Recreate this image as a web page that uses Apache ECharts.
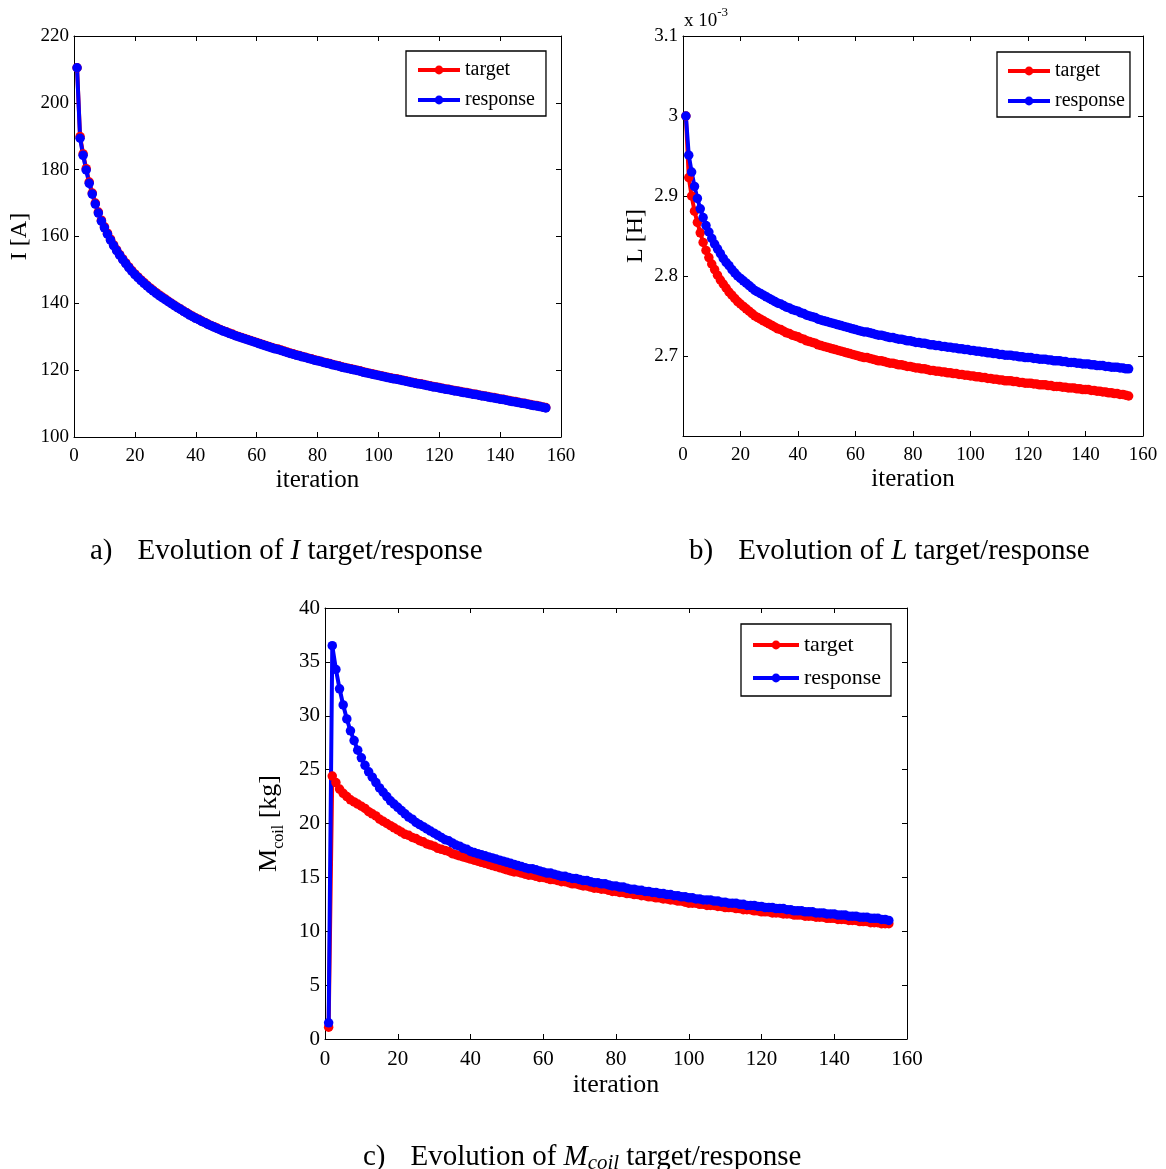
<!DOCTYPE html>
<html>
<head>
<meta charset="utf-8">
<script src="https://cdn.jsdelivr.net/npm/echarts@6/dist/echarts.min.js"></script>
<style>
html,body{margin:0;padding:0;background:#fff;}
#main{width:1166px;height:1169px;}
</style>
</head>
<body>
<div id="main"></div>
<script>
// ---------- DATA ----------
// x: iteration 1..155
const xTicks = [0, 20, 40, 60, 80, 100, 120, 140, 160];
const seriesNames = ['target', 'response'];

// a) current I [A]
const I_response = [
210.5,189.4,184.3,179.9,175.9,172.7,169.7,167.0,164.6,162.6,
160.7,158.9,157.3,155.8,154.4,153.1,151.9,150.7,149.6,148.6,
147.7,146.8,146.0,145.2,144.4,143.7,143.0,142.3,141.7,141.1,
140.5,139.9,139.3,138.7,138.2,137.6,137.1,136.5,136.0,135.5,
135.1,134.6,134.2,133.7,133.3,132.9,132.5,132.1,131.7,131.4,
131.0,130.7,130.3,130.0,129.7,129.4,129.1,128.8,128.5,128.2,
127.9,127.6,127.3,127.0,126.7,126.4,126.2,125.9,125.6,125.3,
125.0,124.8,124.5,124.3,124.0,123.8,123.5,123.3,123.0,122.8,
122.6,122.3,122.1,121.9,121.6,121.4,121.2,120.9,120.7,120.5,
120.3,120.1,119.9,119.7,119.4,119.2,119.0,118.8,118.6,118.4,
118.2,118.0,117.8,117.6,117.4,117.3,117.1,116.9,116.7,116.5,
116.3,116.1,115.9,115.8,115.6,115.4,115.2,115.0,114.9,114.7,
114.5,114.3,114.2,114.0,113.8,113.7,113.5,113.3,113.2,113.0,
112.8,112.7,112.5,112.3,112.2,112.0,111.8,111.7,111.5,111.3,
111.2,111.0,110.8,110.6,110.5,110.3,110.1,110.0,109.8,109.6,
109.4,109.3,109.1,108.9,108.7];
const I_target = [
210.5,189.9,184.7,180.3,176.3,173.0,170.0,167.3,164.9,162.9,
161.0,159.2,157.5,156.0,154.6,153.3,152.1,150.9,149.8,148.8,
147.9,147.0,146.2,145.4,144.6,143.9,143.2,142.5,141.9,141.3,
140.6,140.0,139.4,138.8,138.3,137.7,137.2,136.6,136.1,135.6,
135.2,134.7,134.3,133.8,133.4,133.0,132.6,132.2,131.8,131.5,
131.1,130.8,130.4,130.1,129.8,129.5,129.2,128.9,128.6,128.3,
128.0,127.7,127.4,127.1,126.8,126.5,126.3,126.0,125.7,125.4,
125.1,124.9,124.6,124.4,124.1,123.9,123.6,123.4,123.1,122.9,
122.7,122.4,122.2,122.0,121.7,121.5,121.3,121.0,120.8,120.6,
120.4,120.2,120.0,119.8,119.5,119.3,119.1,118.9,118.7,118.5,
118.3,118.1,117.9,117.7,117.5,117.4,117.2,117.0,116.8,116.6,
116.4,116.2,116.0,115.9,115.7,115.5,115.3,115.1,115.0,114.8,
114.6,114.4,114.3,114.1,113.9,113.8,113.6,113.4,113.3,113.1,
112.9,112.8,112.6,112.4,112.3,112.1,111.9,111.8,111.6,111.4,
111.3,111.1,110.9,110.7,110.6,110.4,110.2,110.1,109.9,109.7,
109.5,109.4,109.2,109.0,108.8];

// b) inductance L [H] x 10^-3
const L_response = [
3.000,2.951,2.930,2.912,2.897,2.884,2.873,2.863,2.855,2.847,
2.840,2.834,2.828,2.822,2.817,2.813,2.808,2.804,2.800,2.797,
2.794,2.791,2.788,2.785,2.782,2.780,2.778,2.776,2.774,2.772,
2.770,2.768,2.766,2.765,2.763,2.761,2.760,2.758,2.757,2.756,
2.754,2.753,2.751,2.750,2.749,2.748,2.746,2.745,2.744,2.743,
2.742,2.741,2.740,2.739,2.738,2.737,2.736,2.735,2.734,2.733,
2.732,2.731,2.730,2.730,2.729,2.728,2.727,2.726,2.726,2.725,
2.724,2.723,2.723,2.722,2.721,2.721,2.720,2.719,2.719,2.718,
2.717,2.717,2.716,2.716,2.715,2.714,2.714,2.713,2.713,2.712,
2.712,2.711,2.711,2.710,2.710,2.709,2.709,2.708,2.708,2.707,
2.707,2.706,2.706,2.705,2.705,2.704,2.704,2.703,2.703,2.702,
2.702,2.701,2.701,2.701,2.700,2.700,2.699,2.699,2.698,2.698,
2.698,2.697,2.697,2.696,2.696,2.696,2.695,2.695,2.694,2.694,
2.694,2.693,2.693,2.692,2.692,2.692,2.691,2.691,2.690,2.690,
2.690,2.689,2.689,2.688,2.688,2.688,2.687,2.687,2.686,2.686,
2.686,2.685,2.685,2.684,2.684];
const L_target = [
3.000,2.923,2.900,2.881,2.867,2.854,2.842,2.832,2.823,2.815,
2.808,2.801,2.795,2.790,2.785,2.780,2.776,2.772,2.768,2.765,
2.762,2.759,2.756,2.753,2.750,2.748,2.746,2.744,2.742,2.740,
2.738,2.736,2.734,2.733,2.731,2.729,2.728,2.726,2.725,2.724,
2.722,2.721,2.719,2.718,2.717,2.716,2.714,2.713,2.712,2.711,
2.710,2.709,2.708,2.707,2.706,2.705,2.704,2.703,2.702,2.701,
2.700,2.699,2.698,2.698,2.697,2.696,2.695,2.694,2.694,2.693,
2.692,2.691,2.691,2.690,2.689,2.689,2.688,2.687,2.687,2.686,
2.685,2.685,2.684,2.684,2.683,2.682,2.682,2.681,2.681,2.680,
2.680,2.679,2.679,2.678,2.678,2.677,2.677,2.676,2.676,2.675,
2.675,2.674,2.674,2.673,2.673,2.672,2.672,2.671,2.671,2.670,
2.670,2.669,2.669,2.669,2.668,2.668,2.667,2.667,2.666,2.666,
2.666,2.665,2.665,2.664,2.664,2.664,2.663,2.663,2.662,2.662,
2.662,2.661,2.661,2.660,2.660,2.660,2.659,2.659,2.658,2.658,
2.658,2.657,2.657,2.656,2.656,2.655,2.655,2.654,2.654,2.653,
2.653,2.652,2.652,2.651,2.650];

// c) coil mass M_coil [kg]
const M_response = [
1.5,36.5,34.3,32.5,31.0,29.7,28.6,27.7,26.8,26.1,
25.4,24.8,24.3,23.8,23.3,22.9,22.5,22.1,21.8,21.5,
21.2,20.9,20.6,20.4,20.1,19.9,19.7,19.5,19.3,19.1,
18.9,18.7,18.5,18.4,18.2,18.0,17.9,17.7,17.6,17.4,
17.3,17.2,17.1,17.0,16.9,16.8,16.7,16.6,16.5,16.4,
16.3,16.2,16.1,16.0,15.9,15.8,15.8,15.7,15.6,15.5,
15.4,15.4,15.3,15.2,15.1,15.1,15.0,14.9,14.9,14.8,
14.7,14.7,14.6,14.5,14.5,14.4,14.4,14.3,14.2,14.2,
14.1,14.1,14.0,13.9,13.9,13.8,13.8,13.7,13.7,13.6,
13.6,13.5,13.5,13.4,13.4,13.3,13.3,13.2,13.2,13.1,
13.1,13.0,13.0,12.9,12.9,12.9,12.8,12.8,12.7,12.7,
12.6,12.6,12.6,12.5,12.5,12.4,12.4,12.4,12.3,12.3,
12.2,12.2,12.2,12.1,12.1,12.1,12.0,12.0,11.9,11.9,
11.9,11.8,11.8,11.8,11.7,11.7,11.7,11.6,11.6,11.6,
11.5,11.5,11.5,11.4,11.4,11.4,11.3,11.3,11.3,11.2,
11.2,11.2,11.1,11.1,11.0];
const M_target = [
1.1,24.4,23.8,23.2,22.8,22.5,22.2,22.0,21.8,21.6,
21.4,21.1,20.9,20.7,20.4,20.2,20.0,19.8,19.6,19.4,
19.2,19.0,18.9,18.7,18.6,18.4,18.3,18.1,18.0,17.9,
17.7,17.6,17.5,17.4,17.2,17.1,17.0,16.9,16.8,16.7,
16.6,16.5,16.4,16.3,16.2,16.1,16.0,15.9,15.8,15.7,
15.6,15.5,15.5,15.4,15.3,15.2,15.2,15.1,15.0,15.0,
14.9,14.8,14.8,14.7,14.6,14.6,14.5,14.4,14.4,14.3,
14.2,14.2,14.1,14.0,14.0,13.9,13.9,13.8,13.7,13.7,
13.6,13.6,13.5,13.5,13.4,13.4,13.3,13.3,13.2,13.2,
13.1,13.1,13.0,13.0,12.9,12.9,12.8,12.8,12.7,12.6,
12.6,12.6,12.5,12.5,12.4,12.4,12.4,12.3,12.3,12.2,
12.2,12.2,12.1,12.1,12.0,12.0,12.0,11.9,11.9,11.8,
11.8,11.8,11.7,11.7,11.7,11.6,11.6,11.6,11.5,11.5,
11.5,11.4,11.4,11.4,11.3,11.3,11.3,11.2,11.2,11.2,
11.1,11.1,11.1,11.0,11.0,11.0,10.9,10.9,10.9,10.8,
10.8,10.8,10.7,10.7,10.7];

// ---------- CHART ----------
const FONT = 'Liberation Serif';
const RED = '#ff0000', BLUE = '#0000ff';
const toXY = arr => arr.map((v, i) => [i + 1, v]);

const grids = [
  {left: 74, top: 36, width: 487, height: 401},
  {left: 683, top: 36, width: 460, height: 400},
  {left: 325, top: 608, width: 582, height: 431}
];

function xAxes(gi, fs, nameGap, nfs, margin) {
  const common = {
    type: 'value', gridIndex: gi, min: 0, max: 160, interval: 20,
    axisLine: {show: true, onZero: false, lineStyle: {color: '#000', width: 1}},
    axisTick: {show: true, inside: true, length: 5, lineStyle: {color: '#000'}},
    splitLine: {show: false}
  };
  return [
    Object.assign({}, common, {
      position: 'bottom', name: 'iteration', nameLocation: 'middle', nameGap: nameGap,
      nameTextStyle: {fontFamily: FONT, fontSize: nfs, color: '#000'},
      axisLabel: {fontFamily: FONT, fontSize: fs, color: '#000', margin: margin}
    }),
    Object.assign({}, common, {position: 'top', axisLabel: {show: false}})
  ];
}
function yAxes(gi, min, max, interval, fs, name, nameGap, nfs, fmt, rich) {
  const common = {
    type: 'value', gridIndex: gi, min: min, max: max, interval: interval,
    axisLine: {show: true, onZero: false, lineStyle: {color: '#000', width: 1}},
    axisTick: {show: true, inside: true, length: 5, lineStyle: {color: '#000'}},
    splitLine: {show: false}
  };
  return [
    Object.assign({}, common, {
      position: 'left', name: name, nameLocation: 'middle', nameGap: nameGap, nameRotate: 90,
      nameTextStyle: {fontFamily: FONT, fontSize: nfs, color: '#000', rich: rich || {}},
      axisLabel: {fontFamily: FONT, fontSize: fs, color: '#000', margin: 5, formatter: fmt}
    }),
    Object.assign({}, common, {position: 'right', axisLabel: {show: false}})
  ];
}

const fmtL = v => (Math.abs(v - 2.6) < 1e-6 ? '' : String(+v.toFixed(1)));

const xAxis = [].concat(
  xAxes(0, 19, 31, 25, 10),
  xAxes(1, 19, 31, 25, 10),
  xAxes(2, 21, 33, 26, 10)
);
const yAxis = [].concat(
  yAxes(0, 100, 220, 20, 19, 'I [A]', 42, 24),
  yAxes(1, 2.6, 3.1, 0.1, 19, 'L [H]', 35, 24, fmtL),
  yAxes(2, 0, 40, 5, 21, '{m|M}{s|coil}{m| [kg]}', 38, 26, null, {
    m: {fontFamily: FONT, fontSize: 26, color: '#000', verticalAlign: 'top', lineHeight: 28},
    s: {fontFamily: FONT, fontSize: 16, color: '#000', verticalAlign: 'top', padding: [15, 0, 0, 0]}
  })
);

function mkSeries(name, color, data, xi, yi) {
  return {
    type: 'line', name: name, xAxisIndex: xi, yAxisIndex: yi,
    data: toXY(data), showAllSymbol: true, symbol: 'circle', symbolSize: 9.5,
    lineStyle: {color: color, width: 4}, itemStyle: {color: color},
    emphasis: {disabled: true}, z: 3
  };
}

const series = [
  mkSeries('target', RED, I_target, 0, 0),
  mkSeries('response', BLUE, I_response, 0, 0),
  mkSeries('target', RED, L_target, 2, 2),
  mkSeries('response', BLUE, L_response, 2, 2),
  mkSeries('target', RED, M_target, 4, 4),
  mkSeries('response', BLUE, M_response, 4, 4)
];

function mkLegend(left, top, fs, pad, gap, iw) {
  return {
    data: seriesNames, orient: 'vertical', left: left, top: top,
    backgroundColor: '#fff', borderColor: '#000', borderWidth: 1.3,
    padding: pad, itemGap: gap, itemWidth: iw, itemHeight: 11,
    lineStyle: {width: 4},
    textStyle: {fontFamily: FONT, fontSize: fs, color: '#000'},
    selectedMode: false
  };
}

const capRich = (fs) => ({
  n: {fontFamily: FONT, fontSize: fs, fontWeight: 'normal', color: '#000', padding: [0, 25, 0, 0]},
  t: {fontFamily: FONT, fontSize: fs, fontWeight: 'normal', color: '#000'},
  i: {fontFamily: FONT, fontSize: fs, fontWeight: 'normal', color: '#000', fontStyle: 'italic'},
  is: {fontFamily: FONT, fontSize: fs * 0.72, fontWeight: 'normal', color: '#000', fontStyle: 'italic', verticalAlign: 'top', padding: [12, 0, 0, 0]}
});

const title = [
  {left: 90, top: 537, padding: 0, text: '{n|a)}{t|Evolution of }{i|I}{t| target/response}', textStyle: {fontWeight: 'normal', rich: capRich(29)}},
  {left: 689, top: 537, padding: 0, text: '{n|b)}{t|Evolution of }{i|L}{t| target/response}', textStyle: {fontWeight: 'normal', rich: capRich(29)}},
  {left: 363, top: 1141, padding: 0, text: '{n|c)}{t|Evolution of }{i|M}{is|coil}{t| target/response}', textStyle: {fontWeight: 'normal', rich: capRich(29)}},
  {left: 684, top: 6, padding: 0, text: '{b|x 10}{sup|-3}', textStyle: {fontWeight: 'normal', rich: {
    b: {fontFamily: FONT, fontSize: 19, fontWeight: 'normal', color: '#000', verticalAlign: 'bottom'},
    sup: {fontFamily: FONT, fontSize: 13, fontWeight: 'normal', color: '#000', verticalAlign: 'bottom', padding: [0, 0, 12, 0]}
  }}}
];

const chart = echarts.init(document.getElementById('main'), null, {renderer: 'canvas'});
chart.setOption({
  animation: false,
  backgroundColor: '#fff',
  grid: grids,
  xAxis: xAxis,
  yAxis: yAxis,
  legend: [
    mkLegend(406, 51, 20, [9, 11, 6, 10], 10, 42),
    mkLegend(997, 52, 20, [9, 5, 6, 9], 10, 42),
    mkLegend(741, 624, 22, [10, 10, 7, 10], 11, 46)
  ],
  title: title,
  series: series
});
</script>
</body>
</html>
